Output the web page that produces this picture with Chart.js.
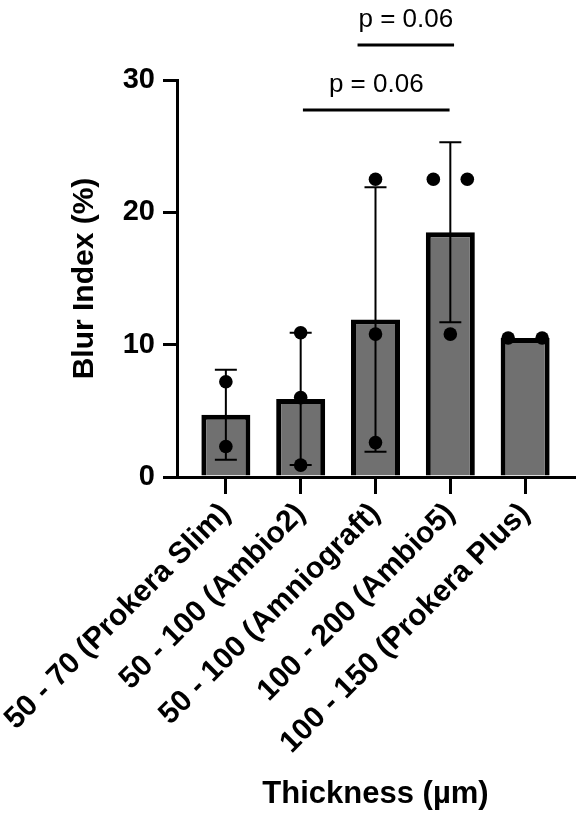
<!DOCTYPE html>
<html><head><meta charset="utf-8">
<script src="https://cdn.jsdelivr.net/npm/chart.js@4.4.1/dist/chart.umd.min.js"></script>
<style>html,body{margin:0;padding:0;background:#fff;overflow:hidden}</style>
</head><body>
<canvas id="c" width="582" height="814"></canvas>
<script>
const categories = ['50 - 70 (Prokera Slim)', '50 - 100 (Ambio2)', '50 - 100 (Amniograft)', '100 - 200 (Ambio5)', '100 - 150 (Prokera Plus)'];
const meanValues = [4.7, 5.9, 11.9, 18.5, 10.5];
const sdValues = [3.4, 5.0, 10.0, 6.8, 0];
const pointValues = [[7.2, 2.3], [10.9, 6.0, 0.9], [22.5, 10.8, 2.6], [22.5, 22.5, 10.8], [10.5, 10.5]];
const yTickValues = [0, 10, 20, 30];
const sigPairs = [[1, 3], [2, 3]];
const sigLabels = ['p = 0.06', 'p = 0.06'];

const FAMILY = '"Liberation Sans", Arial, Helvetica, sans-serif';

// spread identical values horizontally (jitter for duplicates)
const dotData = [];
pointValues.forEach((vals, g) => {
  const counts = {}, seen = {};
  vals.forEach(v => counts[v] = (counts[v] || 0) + 1);
  vals.forEach(v => {
    const k = counts[v];
    const j = seen[v] = (seen[v] === undefined ? 0 : seen[v] + 1);
    const off = k > 1 ? (j - (k - 1) / 2) * 0.454 : 0;
    dotData.push({x: g + off, y: v});
  });
});

const errorBarPlugin = {
  id: 'errorBars',
  afterDatasetDraw(chart, args) {
    if (args.index !== 0) return;
    const {ctx, scales: {x, y}} = chart;
    ctx.save();
    ctx.strokeStyle = '#000';
    ctx.lineWidth = 2;
    meanValues.forEach((m, i) => {
      const sd = sdValues[i];
      if (!sd) return;
      const px = x.getPixelForValue(i);
      const top = y.getPixelForValue(m + sd);
      const bot = y.getPixelForValue(m - sd);
      ctx.beginPath();
      ctx.moveTo(px, top); ctx.lineTo(px, bot);
      ctx.moveTo(px - 11, top); ctx.lineTo(px + 11, top);
      ctx.moveTo(px - 11, bot); ctx.lineTo(px + 11, bot);
      ctx.stroke();
    });
    ctx.restore();
  }
};

const sigPlugin = {
  id: 'sig',
  afterDraw(chart) {
    const {ctx, scales: {x}} = chart;
    const lineY = [110, 45];
    const startAdj = [0.03, -0.24];
    const endAdj = [-0.01, 0.05];
    ctx.save();
    ctx.strokeStyle = '#000';
    ctx.fillStyle = '#000';
    ctx.lineWidth = 3;
    ctx.font = '26px ' + FAMILY;
    ctx.textAlign = 'center';
    ctx.textBaseline = 'alphabetic';
    sigPairs.forEach((p, i) => {
      const x1 = x.getPixelForValue(p[0] + startAdj[i]);
      const x2 = x.getPixelForValue(p[1] + endAdj[i]);
      ctx.beginPath();
      ctx.moveTo(x1, lineY[i]); ctx.lineTo(x2, lineY[i]);
      ctx.stroke();
      ctx.fillText(sigLabels[i], (x1 + x2) / 2, lineY[i] - 18);
    });
    ctx.restore();
  }
};

const PAD_LEFT = 63;
new Chart(document.getElementById('c'), {
  data: {
    datasets: [
      {
        type: 'bar',
        data: meanValues.map((v, i) => ({x: i, y: v})),
        backgroundColor: '#707070',
        borderColor: '#000',
        borderWidth: 5,
        barPercentage: 0.655,
        categoryPercentage: 1,
        order: 1
      },
      {
        type: 'scatter',
        data: dotData,
        pointRadius: 6.8,
        pointBackgroundColor: '#000',
        pointBorderWidth: 0,
        order: 0
      }
    ]
  },
  options: {
    responsive: false,
    animation: false,
    devicePixelRatio: 1,
    layout: {padding: {left: PAD_LEFT, right: 8, top: 80, bottom: 0}},
    plugins: {legend: {display: false}, tooltip: {enabled: false}},
    scales: {
      x: {
        type: 'linear',
        min: -0.653,
        max: 4.653,
        offset: false,
        border: {display: true, color: '#000', width: 3},
        grid: {offset: false, drawOnChartArea: false, drawTicks: true, tickLength: 17, tickWidth: 3, tickColor: '#000', color: '#000', lineWidth: 3},
        ticks: {
          stepSize: 1, includeBounds: false, autoSkip: false,
          minRotation: 45, maxRotation: 45, padding: 2, color: '#000',
          font: {family: FAMILY, size: 30, weight: 'bold'},
          callback: v => (Number.isInteger(v) && categories[v] !== undefined) ? categories[v] : ''
        },
        title: {display: true, text: 'Thickness (µm)', color: '#000', font: {family: FAMILY, size: 31, weight: 'bold'}, padding: {top: 4, bottom: 1}},
        afterFit: s => { s.height = 814 - 477; s.paddingLeft = 0; s.paddingRight = 0; }
      },
      y: {
        min: 0, max: 30,
        border: {display: true, color: '#000', width: 3},
        grid: {drawOnChartArea: false, drawTicks: true, tickLength: 14, tickWidth: 3, tickColor: '#000', color: '#000', lineWidth: 3},
        afterBuildTicks: s => { s.ticks = yTickValues.map(v => ({value: v})); },
        ticks: {padding: 8, color: '#000', font: {family: FAMILY, size: 29, weight: 'bold'}},
        title: {display: true, text: 'Blur Index (%)', color: '#000', font: {family: FAMILY, size: 30, weight: 'bold'}, padding: {top: 4, bottom: 4}},
        afterFit: s => { s.width = 177 - PAD_LEFT; s.paddingTop = 0; s.paddingBottom = 0; }
      }
    }
  },
  plugins: [errorBarPlugin, sigPlugin]
});
</script>
</body></html>
